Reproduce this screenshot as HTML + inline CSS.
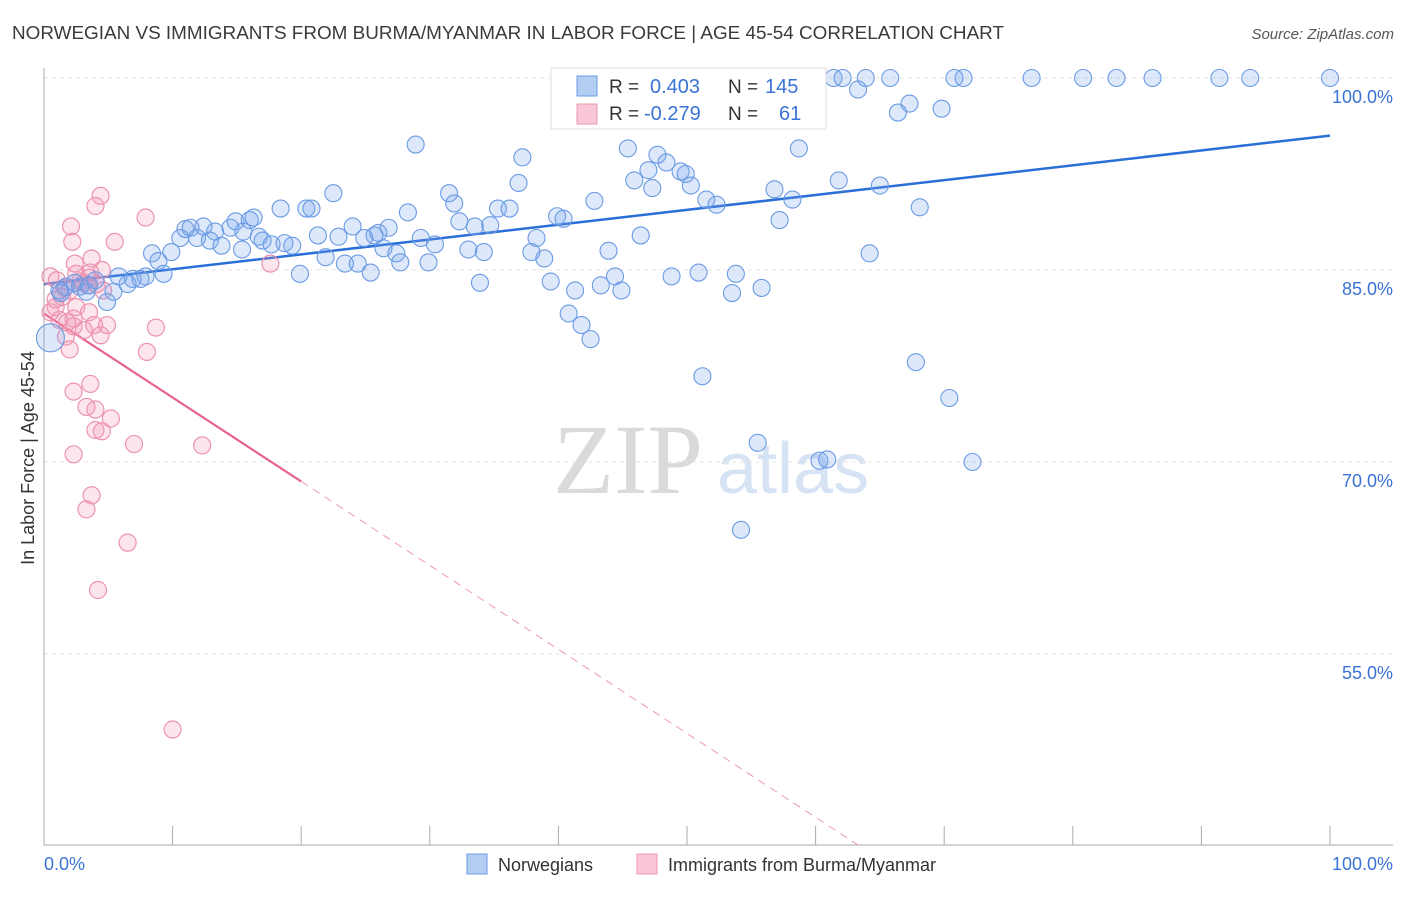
<!DOCTYPE html>
<html><head><meta charset="utf-8"><style>
body{margin:0;background:#fff;font-family:"Liberation Sans",sans-serif;}
</style></head><body>
<svg id="chart" width="1406" height="892" viewBox="0 0 1406 892" xmlns="http://www.w3.org/2000/svg" font-family="Liberation Sans, sans-serif">
<text x="12" y="39" font-size="18" fill="#3a3a3a" textLength="992" lengthAdjust="spacingAndGlyphs">NORWEGIAN VS IMMIGRANTS FROM BURMA/MYANMAR IN LABOR FORCE | AGE 45-54 CORRELATION CHART</text>
<text x="1394" y="39" font-size="15" fill="#555" font-style="italic" text-anchor="end">Source: ZipAtlas.com</text>
<g>
<text x="553" y="493" font-size="100" fill="#dadada" style="font-family:'Liberation Serif',serif">ZIP</text>
<text x="717" y="493" font-size="72" fill="#d6e3f5">atlas</text>
</g>
<g id="grid"></g>
<g id="axes"></g>
<g id="trends"></g>
<g id="points"></g>
<text transform="translate(34,458) rotate(-90)" font-size="18" fill="#333" text-anchor="middle">In Labor Force | Age 45-54</text>
<g>
<rect x="551" y="68" width="275" height="61" fill="#fff" stroke="#ddd"/>
<rect x="577" y="76" width="20" height="20" fill="#b3cdf3" stroke="#6b9be4"/>
<rect x="577" y="104" width="20" height="20" fill="#f9c7d6" stroke="#ec9ab5"/>
<text x="609" y="93" font-size="19" fill="#333">R =</text>
<text x="650" y="93" font-size="20" fill="#3a73d6">0.403</text>
<text x="728" y="93" font-size="19" fill="#333">N =</text>
<text x="765" y="93" font-size="20" fill="#3a73d6">145</text>
<text x="609" y="120" font-size="19" fill="#333">R =</text>
<text x="644" y="120" font-size="20" fill="#3a73d6">-0.279</text>
<text x="728" y="120" font-size="19" fill="#333">N =</text>
<text x="779" y="120" font-size="20" fill="#3a73d6">61</text>
</g>
<g>
<rect x="467" y="854" width="20" height="20" fill="#b3cdf3" stroke="#6b9be4"/>
<text x="498" y="871" font-size="18" fill="#333">Norwegians</text>
<rect x="637" y="854" width="20" height="20" fill="#f9c7d6" stroke="#ec9ab5"/>
<text x="668" y="871" font-size="18" fill="#333">Immigrants from Burma/Myanmar</text>
</g>
</svg>
<script>
const blueX=[60.1,61.4,62.1,63.9,65.8,70.8,71.5,76.8,80.8,83.4,86.2,91.4,93.8,100,56.5,63.3,67.3,66.4,69.8,53.0,28.9,45.4,58.7,47.7,48.4,37.2,47.0,49.5,49.9,45.9,47.3,50.3,36.9,56.8,61.8,65.0,22.5,31.5,51.5,52.3,58.2,42.8,31.9,68.1,18.4,20.4,20.8,28.3,35.3,36.2,39.9,40.4,57.2,32.3,14.9,16.0,16.3,11.0,11.4,12.4,13.3,14.5,15.5,24.0,26.8,33.5,34.7,21.3,22.9,25.7,26.0,10.6,11.9,12.9,13.8,16.7,17.0,17.7,18.7,19.3,29.3,30.4,38.3,46.4,8.4,9.9,8.9,15.4,21.9,24.9,26.4,27.4,27.7,23.4,24.4,25.4,29.9,33.0,34.2,37.9,38.9,43.9,64.2,19.9,9.3,5.8,6.9,7.5,7.9,6.5,5.4,4.9,4.0,2.8,1.3,3.3,1.7,33.9,39.4,41.3,43.3,44.4,44.9,48.8,50.9,53.8,53.5,55.8,40.8,41.8,42.5,51.2,67.8,70.4,55.5,60.3,60.9,72.2,54.2,1.2,2.4,3.5];
const blueY=[100,100,100,100,100,100,100,100,100,100,100,100,100,100,99.1,99.1,98.0,97.3,97.6,97.7,94.8,94.5,94.5,94.0,93.4,93.8,92.8,92.7,92.5,92.0,91.4,91.6,91.8,91.3,92.0,91.6,91.0,91.0,90.5,90.1,90.5,90.4,90.2,89.9,89.8,89.8,89.8,89.5,89.8,89.8,89.2,89.0,88.9,88.8,88.8,88.9,89.1,88.2,88.3,88.4,88.0,88.3,88.0,88.4,88.3,88.4,88.5,87.7,87.6,87.7,87.9,87.5,87.5,87.3,86.9,87.6,87.3,87.0,87.1,86.9,87.5,87.0,87.5,87.7,86.3,86.4,85.7,86.6,86.0,87.5,86.7,86.3,85.6,85.5,85.5,84.8,85.6,86.6,86.4,86.4,85.9,86.5,86.3,84.7,84.7,84.5,84.3,84.3,84.5,83.9,83.3,82.5,84.2,83.7,83.2,83.3,83.7,84.0,84.1,83.4,83.8,84.5,83.4,84.5,84.8,84.7,83.2,83.6,81.6,80.7,79.6,76.7,77.8,75.0,71.5,70.1,70.2,70.0,64.7,83.4,84.0,83.8];
const pinkX=[0.5,1.0,1.6,0.9,2.0,2.8,3.1,3.4,2.5,3.6,0.5,1.2,1.8,2.3,1.7,2.5,3.5,2.3,3.1,3.9,4.4,4.9,2.0,4.4,4.0,2.1,2.2,5.5,7.9,2.4,3.7,4.5,3.5,4.1,4.6,17.6,8.7,8.0,2.3,3.6,3.3,4.0,5.2,4.0,4.5,7.0,12.3,2.3,3.7,3.3,6.5,4.2,10.0,0.9,1.4];
const pinkY=[84.5,84.2,83.6,82.7,83.4,84.1,84.0,83.8,84.7,84.8,81.7,81.1,80.9,81.2,79.8,82.1,81.7,80.6,80.3,80.7,79.9,80.7,78.8,90.8,90.0,88.4,87.2,87.2,89.1,85.5,85.9,85.0,84.4,83.9,83.4,85.5,80.5,78.6,75.5,76.1,74.3,74.1,73.4,72.5,72.4,71.4,71.3,70.6,67.4,66.3,63.7,60.0,49.1,82.1,82.9];
const blueTrend=[83.9,95.5];   // y at x=0, y at x=100
const pinkTrend=[81.6,-0.656]; // intercept, slope
const yTicks=[100,85,70,55];
const yTickLabels=["100.0%","85.0%","70.0%","55.0%"];
const xTicks=[0,10,20,30,40,50,60,70,80,90,100];

const NS="http://www.w3.org/2000/svg";
const X0=44,X1=1330,Y100=78,PXPER=12.8;
function sx(v){return X0+(X1-X0)*v/100;}
function sy(v){return Y100+(100-v)*PXPER;}
function mk(tag,attrs,parent){const e=document.createElementNS(NS,tag);for(const k in attrs)e.setAttribute(k,attrs[k]);parent.appendChild(e);return e;}
const grid=document.getElementById('grid'),axes=document.getElementById('axes'),trends=document.getElementById('trends'),pts=document.getElementById('points');

yTicks.forEach((t,i)=>{
  const l=mk('line',{x1:X0,x2:1393,y1:sy(t),y2:sy(t),stroke:'#e4e4e4','stroke-dasharray':'4,4'},grid);
  
  
  const tx=mk('text',{x:1393,y:sy(t)+25,'font-size':18,fill:'#3a73d6','text-anchor':'end'},grid);
  tx.textContent=yTickLabels[i];
  
  
});
const ya=mk('line',{x1:X0,x2:X0,y1:68,y2:845,stroke:'#aaa'},axes);


const xa=mk('line',{x1:X0,x2:1393,y1:845,y2:845,stroke:'#aaa'},axes);


xTicks.forEach(t=>{
  const l=mk('line',{x1:sx(t),x2:sx(t),y1:826,y2:845,stroke:'#aaa'},axes);
  
  
});
const xl0=mk('text',{x:X0,y:870,'font-size':18,fill:'#3a73d6'},axes);xl0.textContent='0.0%';


const xl1=mk('text',{x:1393,y:870,'font-size':18,fill:'#3a73d6','text-anchor':'end'},axes);xl1.textContent='100.0%';



pinkX.forEach((x,i)=>{
  const c=mk('circle',{cx:sx(x),cy:sy(pinkY[i]),r:8.5,fill:'rgba(244,150,178,0.25)',stroke:'#ec93b0','stroke-width':1.2},pts);
  
  
});
blueX.forEach((x,i)=>{
  const c=mk('circle',{cx:sx(x),cy:sy(blueY[i]),r:8.5,fill:'rgba(120,165,235,0.25)',stroke:'#6a9be4','stroke-width':1.1},pts);
  
  
});
const big=mk('circle',{cx:sx(0.5),cy:sy(79.7),r:14,fill:'rgba(120,165,235,0.25)',stroke:'#6a9be4','stroke-width':1.1},pts);



const bl=mk('line',{x1:sx(0),y1:sy(blueTrend[0]),x2:sx(100),y2:sy(blueTrend[1]),stroke:'#2a6fd8','stroke-width':2.5},trends);


const pEnd=20,yStop=40,xStop=(yStop-pinkTrend[0])/pinkTrend[1];
const pl=mk('line',{x1:sx(0),y1:sy(pinkTrend[0]),x2:sx(pEnd),y2:sy(pinkTrend[0]+pinkTrend[1]*pEnd),stroke:'#e8628f','stroke-width':2.2},trends);


const pd=mk('line',{x1:sx(pEnd),y1:sy(pinkTrend[0]+pinkTrend[1]*pEnd),x2:sx(xStop),y2:sy(yStop),stroke:'#eb9ab4','stroke-width':1,'stroke-dasharray':'8,6'},trends);


</script>
</body></html>
